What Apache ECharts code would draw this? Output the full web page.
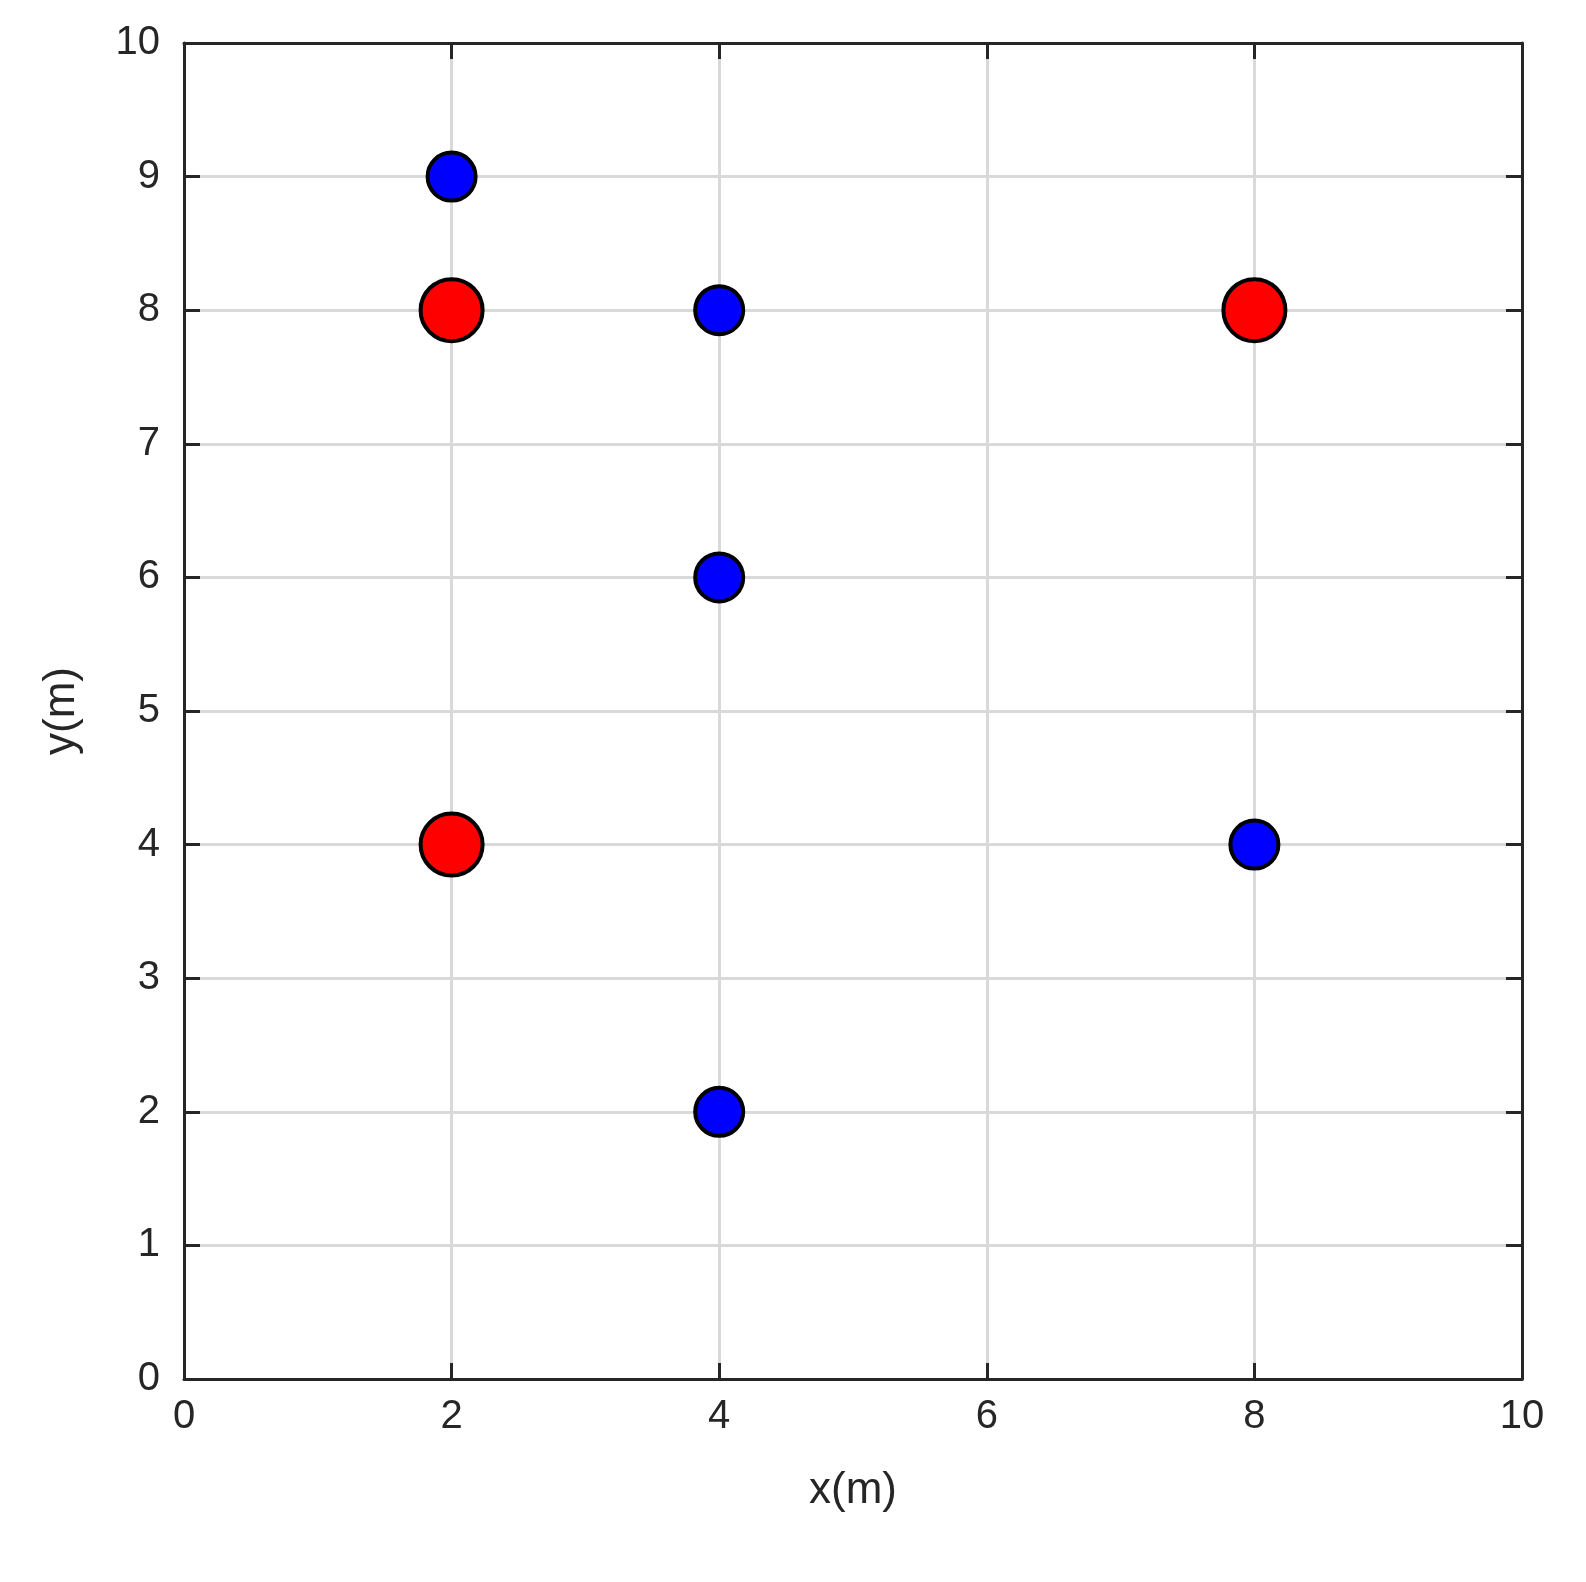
<!DOCTYPE html>
<html><head><meta charset="utf-8">
<script src="https://cdn.jsdelivr.net/npm/echarts@6/dist/echarts.min.js"></script>
<style>html,body{margin:0;padding:0;background:#fff}#c{width:1586px;height:1582px}</style>
</head><body><div id="c"></div>
<script>
const xTicks=[0,2,4,6,8,10];
const yTicks=[0,1,2,3,4,5,6,7,8,9,10];
const redPoints=[[2,8],[2,4],[8,8]];
const bluePoints=[[2,9],[4,8],[4,6],[4,2],[8,4]];
const font='Arial, Liberation Sans, sans-serif';
const axisCommon={min:0,max:10,axisLine:{show:true,onZero:false,lineStyle:{color:'#262626',width:3}},
 axisTick:{show:true,inside:true,length:16,lineStyle:{color:'#262626',width:3}}};
const chart=echarts.init(document.getElementById('c'));
chart.setOption({
 animation:false,
 grid:{left:184,right:64,top:43,bottom:203},
 xAxis:[
  Object.assign({type:'value',interval:2,name:'x(m)',nameLocation:'middle',nameGap:90,
   nameTextStyle:{fontSize:44,color:'#262626',fontFamily:font},
   axisLabel:{fontSize:40,color:'#262626',margin:18,fontFamily:font},
   splitLine:{show:true,lineStyle:{color:'#d9d9d9',width:3}}},axisCommon),
  Object.assign({type:'value',position:'top',interval:2,axisLabel:{show:false},splitLine:{show:false}},axisCommon)
 ],
 yAxis:[
  Object.assign({type:'value',interval:1,name:'y(m)',nameLocation:'middle',nameGap:100,
   nameTextStyle:{fontSize:44,color:'#262626',fontFamily:font},
   axisLabel:{fontSize:40,color:'#262626',margin:24,fontFamily:font},
   splitLine:{show:true,lineStyle:{color:'#d9d9d9',width:3}}},axisCommon),
  Object.assign({type:'value',position:'right',interval:1,axisLabel:{show:false},splitLine:{show:false}},axisCommon)
 ],
 series:[
  {type:'scatter',data:redPoints,symbolSize:62,itemStyle:{color:'#ff0000',borderColor:'#000',borderWidth:4,opacity:1}},
  {type:'scatter',data:bluePoints,symbolSize:48,itemStyle:{color:'#0000ff',borderColor:'#000',borderWidth:4,opacity:1}}
 ]
});
</script></body></html>
